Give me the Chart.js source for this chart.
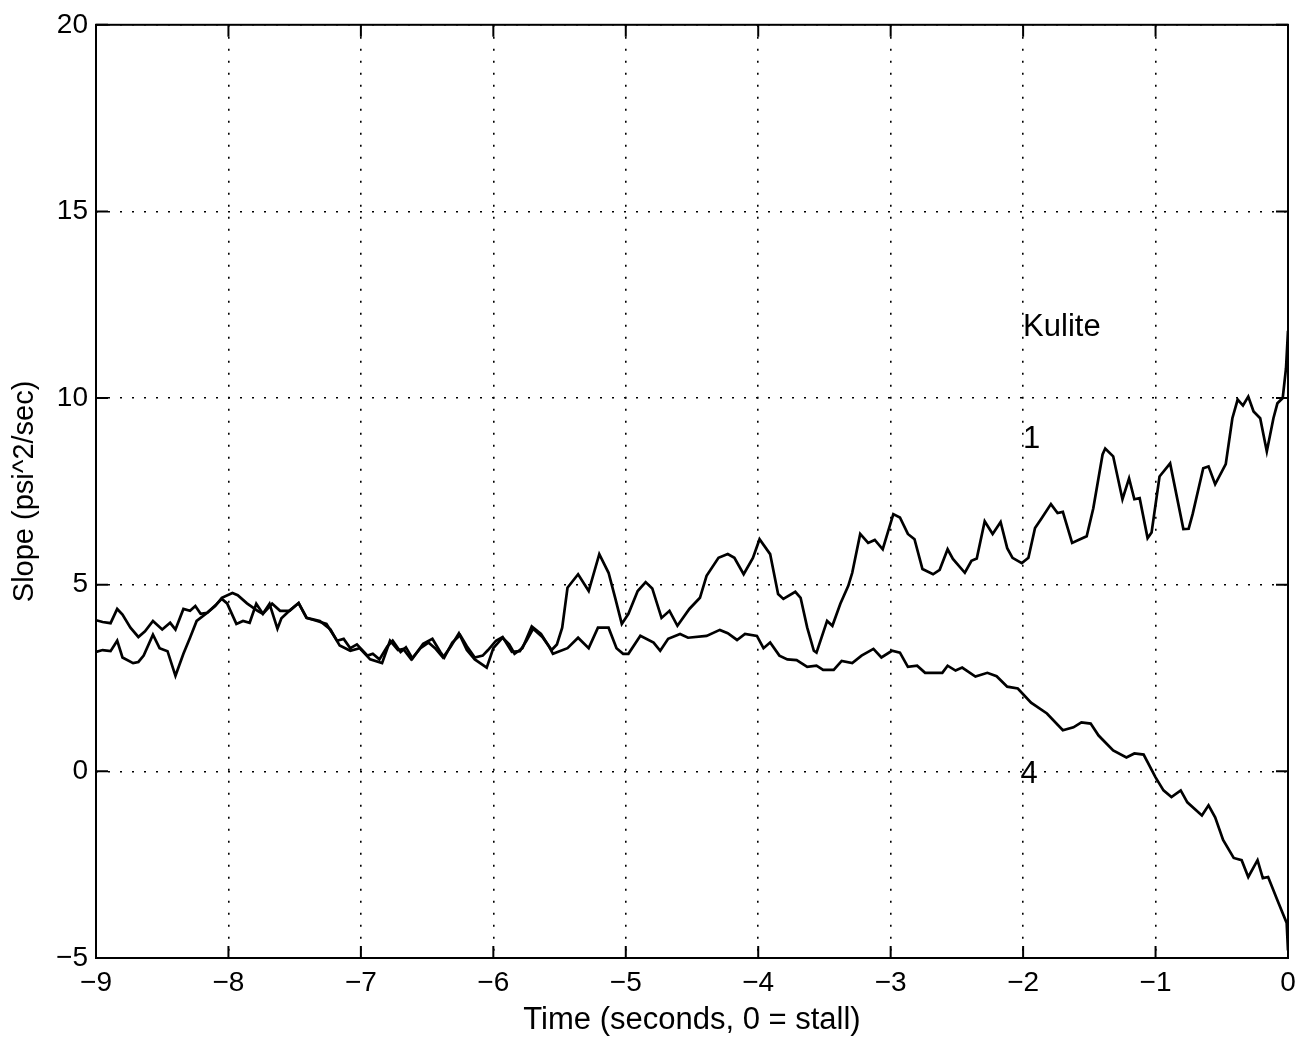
<!DOCTYPE html>
<html>
<head>
<meta charset="utf-8">
<script src="https://cdn.jsdelivr.net/npm/chart.js@4/dist/chart.umd.min.js"></script>
<style>
  html, body { margin: 0; padding: 0; background: #fff; }
</style>
</head>
<body>
<canvas id="chart" width="1310" height="1045"></canvas>
<script>
// Kulite 1 (upper curve at stall)
const kulite1Time = [
  -9.0, -8.95, -8.89, -8.84, -8.80, -8.74, -8.68, -8.63, -8.57, -8.50, -8.44, -8.40, -8.34, -8.29, -8.25, -8.21,
  -8.16, -8.10, -8.05, -7.97, -7.93, -7.86, -7.78, -7.74, -7.67, -7.61, -7.54, -7.47, -7.41, -7.33, -7.26, -7.18,
  -7.13, -7.08, -7.03, -6.95, -6.91, -6.86, -6.80, -6.76, -6.70, -6.66, -6.61, -6.53, -6.46, -6.40, -6.37, -6.31,
  -6.25, -6.20, -6.14, -6.08, -6.04, -5.98, -5.93, -5.86, -5.80, -5.75, -5.70, -5.63, -5.56, -5.52, -5.48, -5.44,
  -5.36, -5.28, -5.20, -5.13, -5.08, -5.03, -4.98, -4.91, -4.85, -4.80, -4.73, -4.67, -4.61, -4.52, -4.44, -4.39,
  -4.30, -4.23, -4.18, -4.11, -4.04, -3.99, -3.91, -3.85, -3.81, -3.72, -3.68, -3.63, -3.58, -3.56, -3.48, -3.44,
  -3.38, -3.32, -3.29, -3.23, -3.17, -3.12, -3.06, -2.98, -2.93, -2.87, -2.82, -2.76, -2.68, -2.63, -2.57, -2.53,
  -2.44, -2.39, -2.35, -2.29, -2.23, -2.17, -2.12, -2.08, -2.01, -1.96, -1.91, -1.86, -1.79, -1.74, -1.70, -1.63,
  -1.57, -1.52, -1.47, -1.40, -1.38, -1.32, -1.25, -1.20, -1.16, -1.12, -1.06, -1.03, -0.97, -0.89, -0.79, -0.75,
  -0.72, -0.64, -0.60, -0.55, -0.47, -0.42, -0.38, -0.34, -0.30, -0.26, -0.21, -0.16, -0.11, -0.08, -0.04, -0.015, 0
];
const kulite1Slope = [
  4.05, 4.0, 3.97, 4.35, 4.2, 3.85, 3.6, 3.75, 4.03, 3.8, 3.98, 3.8, 4.35, 4.3, 4.43, 4.22,
  4.25, 4.43, 4.65, 4.78, 4.72, 4.5, 4.3, 4.22, 4.49, 4.3, 4.3, 4.51, 4.11, 4.03, 3.95, 3.5,
  3.55, 3.3, 3.4, 3.1, 3.15, 3.0, 3.35, 3.5, 3.2, 3.32, 3.02, 3.42, 3.55, 3.2, 3.05, 3.45,
  3.65, 3.35, 3.05, 3.1, 3.25, 3.5, 3.6, 3.2, 3.22, 3.5, 3.82, 3.6, 3.25, 3.4, 3.85, 4.92,
  5.28, 4.83, 5.82, 5.32, 4.65, 3.95, 4.22, 4.83, 5.07, 4.9, 4.11, 4.3, 3.9, 4.35, 4.65, 5.24,
  5.72, 5.82, 5.72, 5.28, 5.72, 6.22, 5.82, 4.75, 4.62, 4.81, 4.65, 3.85, 3.23, 3.18, 4.03, 3.9,
  4.49, 4.97, 5.32, 6.36, 6.12, 6.2, 5.95, 6.89, 6.8, 6.36, 6.22, 5.42, 5.28, 5.4, 5.95, 5.69,
  5.32, 5.64, 5.7, 6.7, 6.36, 6.68, 5.98, 5.72, 5.58, 5.72, 6.52, 6.78, 7.16, 6.92, 6.95, 6.12,
  6.22, 6.3, 7.05, 8.49, 8.65, 8.44, 7.29, 7.85, 7.29, 7.32, 6.25, 6.4, 7.9, 8.25, 6.49, 6.5,
  6.89, 8.12, 8.17, 7.69, 8.23, 9.46, 9.96, 9.8, 10.04, 9.64, 9.46, 8.57, 9.46, 9.86, 10.0, 10.8, 11.8
];

// Kulite 4 (lower curve at stall)
const kulite4Time = [
  -9.0, -8.95, -8.89, -8.84, -8.80, -8.72, -8.68, -8.64, -8.57, -8.52, -8.46, -8.40, -8.34, -8.29, -8.24, -8.16,
  -8.09, -8.05, -8.01, -7.94, -7.89, -7.84, -7.79, -7.74, -7.69, -7.63, -7.60, -7.54, -7.47, -7.41, -7.31, -7.23,
  -7.16, -7.08, -7.01, -6.93, -6.84, -6.78, -6.72, -6.68, -6.62, -6.55, -6.49, -6.44, -6.38, -6.32, -6.26, -6.20,
  -6.14, -6.05, -6.00, -5.93, -5.88, -5.84, -5.78, -5.71, -5.64, -5.58, -5.55, -5.44, -5.36, -5.28, -5.21, -5.13,
  -5.07, -5.02, -4.98, -4.89, -4.79, -4.74, -4.68, -4.59, -4.53, -4.39, -4.29, -4.23, -4.16, -4.10, -4.01, -3.96,
  -3.91, -3.84, -3.78, -3.71, -3.63, -3.56, -3.51, -3.43, -3.37, -3.29, -3.22, -3.13, -3.07, -2.99, -2.93, -2.87,
  -2.80, -2.74, -2.61, -2.57, -2.51, -2.46, -2.36, -2.27, -2.20, -2.12, -2.04, -1.94, -1.82, -1.70, -1.62, -1.56,
  -1.49, -1.43, -1.32, -1.22, -1.16, -1.09, -1.00, -0.94, -0.88, -0.81, -0.76, -0.65, -0.60, -0.55, -0.49, -0.41,
  -0.35, -0.30, -0.23, -0.19, -0.15, -0.08, -0.04, -0.01, 0
];
const kulite4Slope = [
  3.2, 3.25, 3.22, 3.5, 3.05, 2.9, 2.93, 3.1, 3.66, 3.3, 3.22, 2.56, 3.15, 3.58, 4.03, 4.25,
  4.48, 4.62, 4.5, 3.95, 4.03, 3.98, 4.49, 4.22, 4.49, 3.82, 4.1, 4.3, 4.51, 4.11, 4.03, 3.8,
  3.37, 3.23, 3.3, 3.0, 2.9, 3.5, 3.25, 3.28, 3.0, 3.3, 3.45, 3.3, 3.05, 3.35, 3.7, 3.25,
  3.0, 2.78, 3.3, 3.58, 3.4, 3.15, 3.3, 3.88, 3.68, 3.35, 3.15, 3.3, 3.58, 3.3, 3.85, 3.85,
  3.3, 3.15, 3.15, 3.63, 3.45, 3.23, 3.55, 3.68, 3.58, 3.63, 3.79, 3.7, 3.52, 3.68, 3.63, 3.3,
  3.45, 3.1, 3.0, 2.98, 2.8, 2.83, 2.72, 2.72, 2.96, 2.9, 3.1, 3.28, 3.05, 3.23, 3.18, 2.8,
  2.83, 2.64, 2.64, 2.83, 2.7, 2.78, 2.54, 2.64, 2.55, 2.27, 2.22, 1.84, 1.55, 1.1, 1.18, 1.31,
  1.28, 0.96, 0.56, 0.37, 0.48, 0.45, -0.16, -0.51, -0.69, -0.51, -0.83, -1.18, -0.91, -1.23, -1.84, -2.32,
  -2.38, -2.83, -2.38, -2.86, -2.83, -3.45, -3.8, -4.06, -4.8
];

const xTicks = [-9, -8, -7, -6, -5, -4, -3, -2, -1, 0];
const yTicks = [-5, 0, 5, 10, 15, 20];

const curveLabelText = ["Kulite", "1", "4"];
const curveLabelTime = [-2.0, -2.0, -2.02];
const curveLabelSlope = [11.65, 8.65, -0.32];

const FONT = "'Liberation Sans', Arial, Helvetica, sans-serif";

function toPoints(xs, ys) {
  return xs.map((x, i) => ({ x: x, y: ys[i] }));
}

// frame, inward tick marks and the text labels next to the curves
const framePlugin = {
  id: "frame",
  afterDraw(chart) {
    const { ctx, chartArea: a, scales } = chart;
    const sx = scales.x, sy = scales.y;
    const len = 12;
    ctx.save();
    ctx.strokeStyle = "#000";
    ctx.lineWidth = 2;
    ctx.strokeRect(a.left, a.top, a.right - a.left, a.bottom - a.top);
    ctx.beginPath();
    xTicks.forEach(t => {
      const px = sx.getPixelForValue(t);
      ctx.moveTo(px, a.bottom); ctx.lineTo(px, a.bottom - len);
      ctx.moveTo(px, a.top); ctx.lineTo(px, a.top + len);
    });
    yTicks.forEach(t => {
      const py = sy.getPixelForValue(t);
      ctx.moveTo(a.left, py); ctx.lineTo(a.left + len, py);
      ctx.moveTo(a.right, py); ctx.lineTo(a.right - len, py);
    });
    ctx.stroke();

    ctx.fillStyle = "#000";
    ctx.font = "31px " + FONT;
    ctx.textAlign = "left";
    ctx.textBaseline = "alphabetic";
    curveLabelText.forEach((s, i) => {
      ctx.fillText(s, sx.getPixelForValue(curveLabelTime[i]), sy.getPixelForValue(curveLabelSlope[i]));
    });
    ctx.restore();
  }
};

const gridStyle = {
  color: "#000",
  lineWidth: 1.6,
  tickBorderDash: [2, 10],
  drawTicks: false
};

new Chart(document.getElementById("chart"), {
  type: "line",
  data: {
    datasets: [
      {
        label: "Kulite 1",
        data: toPoints(kulite1Time, kulite1Slope),
        borderColor: "#000",
        borderWidth: 2.7,
        pointRadius: 0,
        tension: 0,
        fill: false
      },
      {
        label: "Kulite 4",
        data: toPoints(kulite4Time, kulite4Slope),
        borderColor: "#000",
        borderWidth: 2.7,
        pointRadius: 0,
        tension: 0,
        fill: false
      }
    ]
  },
  options: {
    responsive: false,
    animation: false,
    layout: { padding: { top: 22, right: 22, left: 0, bottom: 0 } },
    plugins: {
      legend: { display: false },
      tooltip: { enabled: false }
    },
    scales: {
      x: {
        type: "linear",
        min: -9,
        max: 0,
        afterBuildTicks: scale => { scale.ticks = xTicks.map(v => ({ value: v })); },
        afterFit: scale => { scale.height = 87; },
        border: { display: false, dash: [2, 10] },
        grid: gridStyle,
        ticks: {
          color: "#000",
          padding: 8,
          maxRotation: 0,
          font: { family: FONT, size: 28 },
          callback: v => String(v).replace("-", "\u2212")
        },
        title: {
          display: true,
          text: "Time (seconds, 0 = stall)",
          color: "#000",
          font: { family: FONT, size: 31 },
          padding: { top: 0, bottom: 6 }
        }
      },
      y: {
        type: "linear",
        min: -5,
        max: 20,
        afterBuildTicks: scale => { scale.ticks = yTicks.map(v => ({ value: v })); },
        afterFit: scale => { scale.width = 96; },
        border: { display: false, dash: [2, 10] },
        grid: gridStyle,
        ticks: {
          color: "#000",
          padding: 8,
          font: { family: FONT, size: 28 },
          callback: v => String(v).replace("-", "\u2212")
        },
        title: {
          display: true,
          text: "Slope (psi^2/sec)",
          color: "#000",
          font: { family: FONT, size: 29 },
          padding: { top: 8, bottom: 0 }
        }
      }
    }
  },
  plugins: [framePlugin]
});
</script>
</body>
</html>
